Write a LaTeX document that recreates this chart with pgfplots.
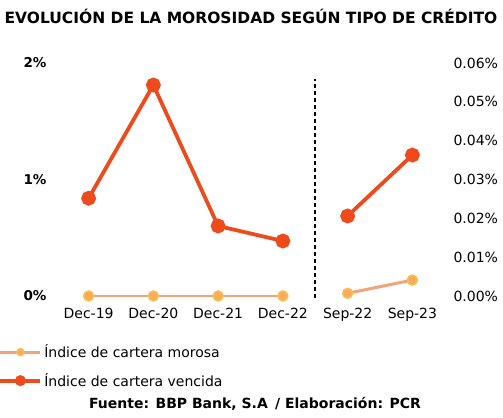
\documentclass[border=0pt]{standalone}
\usepackage{fontspec}
\setmainfont{DejaVu Sans}
\usepackage{pgfplots}
\pgfplotsset{compat=1.18}
\definecolor{vencida}{HTML}{EE4B1C}
\definecolor{morosa}{HTML}{F4A27A}
\definecolor{morosamk}{HTML}{F7C24A}

\begin{document}
\begin{tikzpicture}
\clip (0,0) rectangle (503bp,418bp);
\path[use as bounding box] (0,0) rectangle (503bp,418bp);

\pgfplotsset{
  every axis/.append style={
    at={(53bp,122bp)}, anchor=south west,
    scale only axis, width=395bp, height=233bp,
    xmin=-0.55, xmax=5.55, clip=false,
    axis line style={draw=none}, major tick style={draw=none},
    /pgf/number format/assume math mode=true,
    tick label style={font=\fontsize{14bp}{16bp}\selectfont},
  },
  venc/.style={color=vencida, line width=3.8pt, mark=*, mark size=5.5bp,
    mark options={fill=vencida, draw=vencida}},
  moro/.style={color=morosa, line width=3pt, mark=*, mark size=5bp,
    mark options={fill=morosamk!70!magenta!40!morosamk, draw=morosamk, line width=1.5pt}},
}

% left axis: December series
\begin{axis}[
  ymin=0, ymax=2,
  ytick={0,1,2},
  yticklabel={\textbf{\pgfmathprintnumber{\tick}\%}},
  yticklabel style={xshift=-3bp, font=\fontsize{13.5bp}{16bp}\selectfont},
  xtick={0,1,2,3,4,5},
  xticklabels={Dec-19,Dec-20,Dec-21,Dec-22,Sep-22,Sep-23},
  xticklabel style={yshift=-9bp},
  legend style={at={(-0.146,-0.192)}, anchor=north west, draw=none, fill=none,
    font=\fontsize{14bp}{16bp}\selectfont, row sep=10bp},
  legend cell align=left,
  legend image code/.code={
    \draw[mark repeat=2, mark phase=2, mark size=3.5bp, #1] plot coordinates {(0bp,0bp) (20bp,0bp) (40bp,0bp)};
  },
]
\addplot[moro] coordinates {(0,0) (1,0) (2,0) (3,0)};
\addlegendentry{Índice de cartera morosa}
\addplot[venc] coordinates {(0,0.839) (1,1.811) (2,0.601) (3,0.472)};
\addlegendentry{Índice de cartera vencida}
\draw[black, line width=1.6pt, dash pattern=on 4bp off 3bp]
  (axis cs:3.5,-0.02) -- (axis cs:3.5,1.86);
\end{axis}

% right axis: September series
\begin{axis}[
  ymin=0, ymax=0.06,
  ytick={0,0.01,0.02,0.03,0.04,0.05,0.06},
  scaled y ticks=false,
  axis y line*=right, hide x axis,
  yticklabel={\pgfmathprintnumber[fixed, fixed zerofill, precision=2]{\tick}\%},
  yticklabel style={xshift=2bp},
]
\addplot[moro] coordinates {(4,0.0007) (5,0.0041)};
\addplot[venc] coordinates {(4,0.0206) (5,0.0363)};
\end{axis}

\node[font=\bfseries\fontsize{15.5bp}{18bp}\selectfont] at (251bp,402bp)
  {EVOLUCIÓN DE LA MOROSIDAD SEGÚN TIPO DE CRÉDITO};
\node[font=\bfseries\fontsize{14bp}{16bp}\selectfont] at (255bp,14bp)
  {Fuente: BBP Bank, S.A \,/ Elaboración: PCR};
\end{tikzpicture}
\end{document}
